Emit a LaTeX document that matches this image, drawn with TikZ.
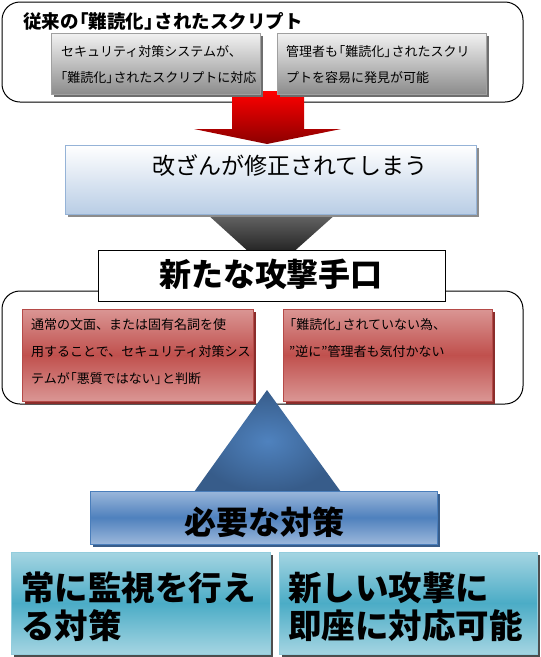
\documentclass[tikz,border=0pt]{standalone}
\usepackage{fontspec}
\newfontfamily\jp{Noto Sans CJK JP}
\newcommand{\lbk}{\kern-0.45em「}
\newcommand{\rbk}{」\kern-0.45em}
\definecolor{grayT}{HTML}{F2F2F2}
\definecolor{grayB}{HTML}{8C8C8C}
\definecolor{grayE}{HTML}{A0A0A0}
\definecolor{grayS}{HTML}{6E6E6E}
\definecolor{redO}{HTML}{DA9694}
\definecolor{redM}{HTML}{C0504D}
\definecolor{redE}{HTML}{B54A48}
\definecolor{redS}{HTML}{8B2D2B}
\definecolor{bluO}{HTML}{9BB7DB}
\definecolor{bluM}{HTML}{4F81BD}
\definecolor{bluE}{HTML}{4A7EBB}
\definecolor{bluS}{HTML}{385D8A}
\definecolor{ltbT}{HTML}{FFFFFF}
\definecolor{ltbB}{HTML}{B9CDE5}
\definecolor{ltbE}{HTML}{95B3D7}
\definecolor{ltbS}{HTML}{8C8C8C}
\definecolor{teaO}{HTML}{A5D5E2}
\definecolor{teaM}{HTML}{4BACC6}
\definecolor{teaE}{HTML}{93CDDD}
\definecolor{teaS}{HTML}{4D4D4D}
\definecolor{arrT}{HTML}{FF0000}
\definecolor{arrB}{HTML}{8B0000}
\definecolor{triI}{HTML}{4F82BE}
\definecolor{triO}{HTML}{375C8A}
\begin{document}
\begin{tikzpicture}[x=1pt,y=-1pt,
  boxbase/.style={rectangle,inner sep=0pt,outer sep=0pt,anchor=north west},
  roundbox/.style={boxbase,draw=black,line width=1pt,rounded corners=18pt,fill=white},
  graybox/.style={boxbase,draw=grayE,line width=0.8pt,top color=grayT,bottom color=grayB},
  redbox/.style={boxbase,draw=redE,line width=0.8pt,top color=redO,bottom color=redO,middle color=redM},
  ltbbox/.style={boxbase,draw=ltbE,line width=0.8pt,top color=ltbT,bottom color=ltbB},
  whitebox/.style={boxbase,draw=black,line width=1pt,fill=white},
  blubox/.style={boxbase,draw=bluE,line width=0.8pt,top color=bluO,bottom color=bluO,middle color=bluM},
  teabox/.style={boxbase,draw=teaE,line width=0.8pt,top color=teaO,bottom color=teaO,middle color=teaM},
  smalltxt/.style={anchor=west,inner sep=0pt,font=\jp\fontsize{13}{15}\selectfont},
  titletxt/.style={anchor=west,inner sep=0pt,font=\jp\bfseries\fontsize{18.5}{20}\selectfont},
  midtxt/.style={anchor=west,inner sep=0pt,font=\jp\fontsize{23}{25}\selectfont},
  bigtxt/.style={anchor=center,inner sep=0pt,font=\jp\bfseries\fontsize{32}{34}\selectfont},
  hugetxt/.style={anchor=west,inner sep=0pt,font=\jp\bfseries\fontsize{33.5}{36}\selectfont}
]
\useasboundingbox (0,0) rectangle (541,657);

% top section
\node[roundbox,minimum width=521pt,minimum height=100pt] (topbox) at (2,2) {};
\node[titletxt] (title) at (23,21) {従来の\lbk 難読化\rbk されたスクリプト};

\path[top color=arrT,bottom color=arrB]
  (232,91) -- (304,91) -- (304,129) -- (341,129) -- (267,144) -- (194,129) -- (232,129) -- cycle;

\fill[grayS] (53.5,35.5) rectangle ++(209,61);
\node[graybox,minimum width=209pt,minimum height=61pt] (g1) at (51,33) {};
\node[smalltxt] (g1a) at (61,52) {セキュリティ対策システムが、};
\node[smalltxt] (g1b) at (60,78) {\lbk 難読化\rbk されたスクリプトに対応};
\fill[grayS] (279.5,35.5) rectangle ++(209,61);
\node[graybox,minimum width=209pt,minimum height=61pt] (g2) at (277,33) {};
\node[smalltxt] (g2a) at (286,52) {管理者も\lbk 難読化\rbk されたスクリ};
\node[smalltxt] (g2b) at (286,78) {プトを容易に発見が可能};

% black funnel
\path[top color=black!60,bottom color=black] (207,214) -- (336,214) -- (271,272) -- cycle;

\fill[ltbS] (67.5,147.5) rectangle ++(411,69);
\node[ltbbox,minimum width=411pt,minimum height=69pt] (mod) at (65,145) {};
\node[midtxt] (modt) at (152,166) {改ざんが修正されてしまう};

% bottom section
\node[roundbox,minimum width=521pt,minimum height=113pt] (botbox) at (2,291) {};
\node[whitebox,minimum width=347pt,minimum height=51pt] (new) at (98,250) {};
\node[bigtxt] (newt) at (271,274) {新たな攻撃手口};

\fill[redS] (24.5,311.5) rectangle ++(231,92);
\node[redbox,minimum width=231pt,minimum height=92pt] (r1) at (22,309) {};
\node[smalltxt] (r1a) at (31,325) {通常の文面、または固有名詞を使};
\node[smalltxt] (r1b) at (31,352) {用することで、セキュリティ対策シス};
\node[smalltxt] (r1c) at (31,379) {テムが\lbk 悪質ではない\rbk と判断};
\fill[redS] (285.5,311.5) rectangle ++(209,92);
\node[redbox,minimum width=209pt,minimum height=92pt] (r2) at (283,309) {};
\node[smalltxt] (r2a) at (289,325) {\lbk 難読化\rbk されていない為、};
\node[smalltxt] (r2b) at (289,352) {”逆に”管理者も気付かない};

% blue triangle
\path[inner color=triI,outer color=triO] (267,390) -- (341,492) -- (194,492) -- cycle;

\fill[bluS] (92.5,493.5) rectangle ++(347,53);
\node[blubox,minimum width=347pt,minimum height=53pt] (need) at (90,491) {};
\node[bigtxt] (needt) at (264,522) {必要な対策};

\fill[teaS] (13.5,554.5) rectangle ++(259,102);
\node[teabox,minimum width=259pt,minimum height=102pt] (t1) at (11,552) {};
\node[hugetxt] (t1a) at (21,588) {常に監視を行え};
\node[hugetxt] (t1b) at (21,626) {る対策};
\fill[teaS] (281.5,554.5) rectangle ++(258,102);
\node[teabox,minimum width=258pt,minimum height=102pt] (t2) at (279,552) {};
\node[hugetxt] (t2a) at (288,588) {新しい攻撃に};
\node[hugetxt] (t2b) at (288,626) {即座に対応可能};
\end{tikzpicture}
\end{document}
